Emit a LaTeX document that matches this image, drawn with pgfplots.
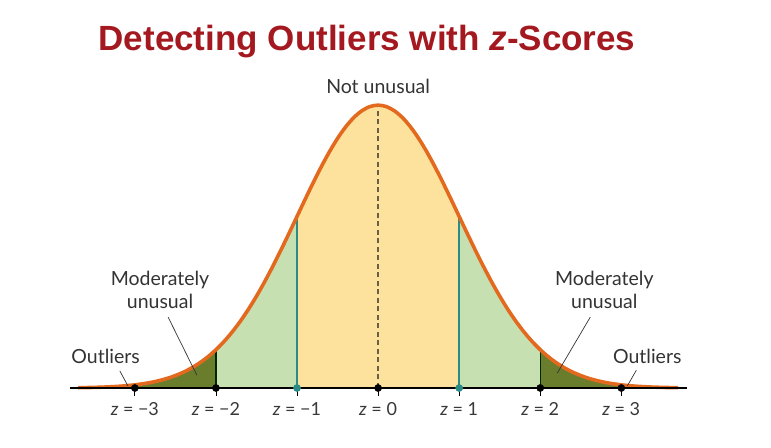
\documentclass[border=0pt]{standalone}
\usepackage{pgfplots}
\pgfplotsset{compat=1.18}
\usepgfplotslibrary{fillbetween}
\usepackage{fontspec}
\setmainfont{Lato}
\newfontfamily\titlefont{Liberation Sans}
\definecolor{titlered}{HTML}{A3191F}
\definecolor{curveorange}{HTML}{E2691E}
\definecolor{yellowfill}{HTML}{FCE29C}
\definecolor{lightgreen}{HTML}{C6E0B2}
\definecolor{darkgreen}{HTML}{6A7D2C}
\definecolor{tealc}{HTML}{2A8C84}
\definecolor{dashc}{HTML}{6B5E45}
\definecolor{outred}{HTML}{D42A1E}
\pgfplotstableread{
x y
-3.7 0.00042
-3.6 0.00061
-3.5 0.00087
-3.4 0.00123
-3.3 0.00172
-3.2 0.00238
-3.1 0.00327
-3.0 0.00443
-2.9 0.00595
-2.8 0.00792
-2.7 0.01042
-2.6 0.01358
-2.5 0.01753
-2.4 0.02239
-2.3 0.02833
-2.2 0.03547
-2.1 0.04398
-2.0 0.05399
-1.9 0.06562
-1.8 0.07895
-1.7 0.09405
-1.6 0.11092
-1.5 0.12952
-1.4 0.14973
-1.3 0.17137
-1.2 0.19419
-1.1 0.21785
-1.0 0.24197
-0.9 0.26609
-0.8 0.28969
-0.7 0.31225
-0.6 0.33322
-0.5 0.35207
-0.4 0.36827
-0.3 0.38139
-0.2 0.39104
-0.1 0.39695
0.0 0.39894
0.1 0.39695
0.2 0.39104
0.3 0.38139
0.4 0.36827
0.5 0.35207
0.6 0.33322
0.7 0.31225
0.8 0.28969
0.9 0.26609
1.0 0.24197
1.1 0.21785
1.2 0.19419
1.3 0.17137
1.4 0.14973
1.5 0.12952
1.6 0.11092
1.7 0.09405
1.8 0.07895
1.9 0.06562
2.0 0.05399
2.1 0.04398
2.2 0.03547
2.3 0.02833
2.4 0.02239
2.5 0.01753
2.6 0.01358
2.7 0.01042
2.8 0.00792
2.9 0.00595
3.0 0.00443
3.1 0.00327
3.2 0.00238
3.3 0.00172
3.4 0.00123
3.5 0.00087
3.6 0.00061
3.7 0.00042
}\normaltable
\begin{document}
\begin{tikzpicture}
\begin{axis}[
  scale only axis,
  width=617bp, height=283.6bp,
  xmin=-3.8, xmax=3.81, ymin=0, ymax=0.4,
  axis x line=bottom, hide y axis,
  axis line style={black, line width=1.1pt, -},
  xtick={-3,-2,-1,0,1,2,3},
  xticklabels={{\itshape z} = −3,{\itshape z} = −2,{\itshape z} = −1,{\itshape z} = 0,{\itshape z} = 1,{\itshape z} = 2,{\itshape z} = 3},
  xtick align=outside,
  major tick length=8bp,
  tick style={black, line width=0.8pt},
  xticklabel style={font=\fontsize{18bp}{20bp}\selectfont, text=black!78, yshift=-3bp},
  clip=false,
]
\addplot[draw=none, name path=curve] table[x=x, y=y] {\normaltable};
\addplot[draw=none, name path=base] coordinates {(-3.8,0) (3.81,0)};
\addplot[yellowfill] fill between[of=curve and base, soft clip={domain=-1:1}];
\addplot[lightgreen] fill between[of=curve and base, soft clip={domain=-2:-1}];
\addplot[lightgreen] fill between[of=curve and base, soft clip={domain=1:2}];
\addplot[darkgreen] fill between[of=curve and base, soft clip={domain=-3:-2}];
\addplot[darkgreen] fill between[of=curve and base, soft clip={domain=2:3}];
\addplot[outred] fill between[of=curve and base, soft clip={domain=-3.8:-3}];
\addplot[outred] fill between[of=curve and base, soft clip={domain=3:3.81}];
% vertical lines
\addplot[tealc, line width=1.4pt] coordinates {(-1,0) (-1,0.24197)};
\addplot[tealc, line width=1.4pt] coordinates {(1,0) (1,0.24197)};
\addplot[black!85!green, line width=1.4pt] coordinates {(-2,0) (-2,0.05399)};
\addplot[black!85!green, line width=1.4pt] coordinates {(2,0) (2,0.05399)};
\addplot[dashc, line width=1.3pt, dash pattern=on 5bp off 3.5bp] coordinates {(0,0) (0,0.39894)};
% curve
\addplot[curveorange, line width=3.6pt, smooth] table[x=x, y=y] {\normaltable};
% baseline
\addplot[black, line width=1.1pt] coordinates {(-3.8,0) (3.81,0)};
% dots
\addplot[only marks, mark=*, mark size=3.6bp, black] coordinates {(-3,0) (-2,0) (0,0) (2,0) (3,0)};
\addplot[only marks, mark=*, mark size=3.6bp, tealc] coordinates {(-1,0) (1,0)};
% leader lines
\draw[black!80, line width=0.7pt] (axis cs:-2.59,0.100) -- (axis cs:-2.235,0.018);
\draw[black!80, line width=0.7pt] (axis cs:2.617,0.100) -- (axis cs:2.21,0.021);
\draw[black!80, line width=0.7pt] (axis cs:-3.185,0.024) -- (axis cs:-3.086,0.003);
\draw[black!80, line width=0.7pt] (axis cs:3.185,0.025) -- (axis cs:3.074,0.003);
% labels
\node[align=center, text=black!80, font=\fontsize{19.5bp}{23bp}\selectfont] at (axis cs:-2.69,0.139) {Moderately\\unusual};
\node[align=center, text=black!80, font=\fontsize{19.5bp}{23bp}\selectfont] at (axis cs:2.79,0.139) {Moderately\\unusual};
\node[text=black!80, font=\fontsize{19.5bp}{23bp}\selectfont] at (axis cs:-3.36,0.045) {Outliers};
\node[text=black!80, font=\fontsize{19.5bp}{23bp}\selectfont] at (axis cs:3.32,0.045) {Outliers};
\node[text=black!80, font=\fontsize{19.5bp}{23bp}\selectfont] at (axis cs:0,0.425) {Not unusual};
\node[text=titlered, font=\titlefont\bfseries\fontsize{35bp}{40bp}\selectfont] at (axis cs:-0.136,0.488) {Detecting Outliers with {\itshape z}-Scores};
\coordinate (O) at (axis cs:-3.8,0);
\end{axis}
\path[use as bounding box] ([xshift=-70bp,yshift=-60bp]O) rectangle ++(771bp,448bp);
\end{tikzpicture}
\end{document}
